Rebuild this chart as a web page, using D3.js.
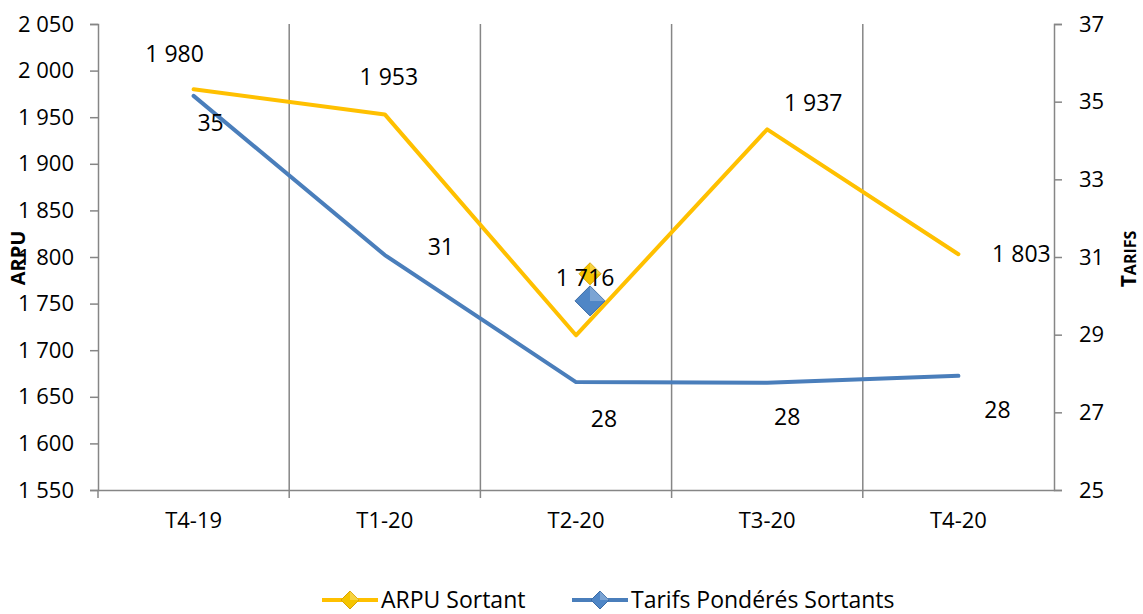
<!DOCTYPE html>
<html>
<head>
<meta charset="utf-8">
<script src="https://cdn.jsdelivr.net/npm/d3@7"></script>
<style>
  body { margin: 0; background: #fff; }
  text { font-family: "Open Sans", sans-serif; fill: #000; }
</style>
</head>
<body>
<svg id="chart" width="1143" height="614"></svg>
<script>
// data
var quarters = ["T4-19", "T1-20", "T2-20", "T3-20", "T4-20"];
var arpu = [1980, 1953, 1716, 1937, 1803];
var tarifs = [35.15, 31.05, 27.78, 27.76, 27.94];
var tarifLabels = ["35", "31", "28", "28", "28"];
var arpuTicks = [1550, 1600, 1650, 1700, 1750, 1800, 1850, 1900, 1950, 2000, 2050];
var tarifTicks = [25, 27, 29, 31, 33, 35, 37];
// label offsets as placed in the original workbook
var arpuLabelOffset = [[-19, -27], [4, -29], [9, -49], [46, -18], [63, 8]];
var tarifLabelOffset = [[17, 35], [56, 0], [28, 45], [20, 42], [39, 42]];

var margin = {top: 24, right: 89, bottom: 124, left: 98};
var width = 1143 - margin.left - margin.right;
var height = 614 - margin.top - margin.bottom;
var grey = "#868686";
var gold = "#FFC000";
var blue = "#4A7EBB";
var fs = 22;

var svg = d3.select("#chart")
  .append("g")
    .attr("transform", "translate(" + margin.left + "," + margin.top + ")");

var x = d3.scaleBand().domain(quarters).range([0, width]);
var y = d3.scaleLinear().domain([1550, 2050]).range([height, 0]);
var y2 = d3.scaleLinear().domain([25, 37]).range([height, 0]);
var fmt = function(d) { return d3.format(",")(d).replace(",", " "); };

// vertical gridlines at category boundaries
svg.selectAll(".grid")
  .data(quarters.slice(1))
  .enter().append("line")
    .attr("x1", function(d) { return x(d); })
    .attr("x2", function(d) { return x(d); })
    .attr("y1", 0)
    .attr("y2", height + 8)
    .attr("stroke", grey)
    .attr("stroke-width", 1.5);

// axes
var left = svg.append("g")
  .call(d3.axisLeft(y).tickValues(arpuTicks).tickFormat(fmt).tickSizeOuter(0).tickSize(8).tickPadding(16));
var right = svg.append("g")
  .attr("transform", "translate(" + width + ",0)")
  .call(d3.axisRight(y2).tickValues(tarifTicks).tickSizeOuter(0).tickSize(8).tickPadding(17));
var bottom = svg.append("g")
  .attr("transform", "translate(0," + height + ")")
  .call(d3.axisBottom(x).tickSize(0).tickSizeOuter(0).tickPadding(22));
bottom.append("line")
  .attr("x1", 0).attr("x2", 0).attr("y1", 0).attr("y2", 8)
  .attr("stroke", grey).attr("stroke-width", 1.5);

[left, right, bottom].forEach(function(g) {
  g.select(".domain").attr("stroke", grey).attr("stroke-width", 1.5);
  g.selectAll(".tick line").attr("stroke", grey).attr("stroke-width", 1.5);
  g.selectAll("text").attr("font-size", fs).attr("font-family", "'Open Sans', sans-serif").attr("fill", "#000");
});

// axis titles
svg.append("text")
  .attr("transform", "translate(" + (-73) + "," + (height / 2 + 1) + ") rotate(-90)")
  .attr("text-anchor", "middle")
  .attr("font-size", 20)
  .attr("font-weight", "bold")
  .text("ARPU");
var t2 = svg.append("text")
  .attr("transform", "translate(" + (width + 82) + "," + (height / 2 + 2) + ") rotate(-90)")
  .attr("text-anchor", "middle")
  .attr("font-weight", "bold");
t2.append("tspan").attr("font-size", 21).text("T");
t2.append("tspan").attr("font-size", 16).text("ARIFS");

// lines
var cx = function(i) { return x(quarters[i]) + x.bandwidth() / 2; };
var arpuLine = d3.line().x(function(d, i) { return cx(i); }).y(function(d) { return y(d); });
var tarifLine = d3.line().x(function(d, i) { return cx(i); }).y(function(d) { return y2(d); });

svg.append("path")
  .datum(arpu)
  .attr("d", arpuLine)
  .attr("fill", "none")
  .attr("stroke", gold)
  .attr("stroke-width", 4)
  .attr("stroke-linejoin", "round")
  .attr("stroke-linecap", "round");
svg.append("path")
  .datum(tarifs)
  .attr("d", tarifLine)
  .attr("fill", "none")
  .attr("stroke", blue)
  .attr("stroke-width", 4)
  .attr("stroke-linejoin", "round")
  .attr("stroke-linecap", "round");

// stray markers left in the middle of the plot in the original
function diamond(g, cxp, cyp, r, c1, c2) {
  g.append("path")
    .attr("d", "M" + cxp + "," + (cyp - r) + "L" + (cxp + r) + "," + cyp + "L" + cxp + "," + (cyp + r) + "L" + (cxp - r) + "," + cyp + "Z")
    .attr("fill", c1)
    .attr("stroke", c2)
    .attr("stroke-width", 1);
  g.append("path")
    .attr("d", "M" + cxp + "," + (cyp - r) + "L" + (cxp + r) + "," + cyp + "L" + cxp + "," + cyp + "Z")
    .attr("fill", "#fff").attr("opacity", 0.25);
}
diamond(svg, cx(2) + 14, y2(29.87), 15, "#4F86C6", "#3A6BA5");
diamond(svg, cx(2) + 14, y(1782), 11, "#F5C400", "#D9A300");

// data labels
svg.selectAll(".arpu-label")
  .data(arpu)
  .enter().append("text")
    .attr("x", function(d, i) { return cx(i) + arpuLabelOffset[i][0]; })
    .attr("y", function(d, i) { return y(d) + arpuLabelOffset[i][1]; })
    .attr("text-anchor", "middle")
    .attr("font-size", 23)
    .text(fmt);
svg.selectAll(".tarif-label")
  .data(tarifs)
  .enter().append("text")
    .attr("x", function(d, i) { return cx(i) + tarifLabelOffset[i][0]; })
    .attr("y", function(d, i) { return y2(d) + tarifLabelOffset[i][1]; })
    .attr("text-anchor", "middle")
    .attr("font-size", 23)
    .text(function(d, i) { return tarifLabels[i]; });

// legend
var legend = d3.select("#chart").append("g").attr("transform", "translate(0,600)");
var items = [
  {name: "ARPU Sortant", color: gold, dc: "#F5C400", ds: "#D9A300", x: 322},
  {name: "Tarifs Pondérés Sortants", color: blue, dc: "#4F86C6", ds: "#3A6BA5", x: 572}
];
items.forEach(function(it) {
  legend.append("line")
    .attr("x1", it.x).attr("x2", it.x + 56)
    .attr("y1", 0).attr("y2", 0)
    .attr("stroke", it.color).attr("stroke-width", 4);
  diamond(legend, it.x + 28, 0, 9, it.dc, it.ds);
  legend.append("text")
    .attr("x", it.x + 59)
    .attr("y", 8)
    .attr("font-size", 23)
    .text(it.name);
});
</script>
</body>
</html>
